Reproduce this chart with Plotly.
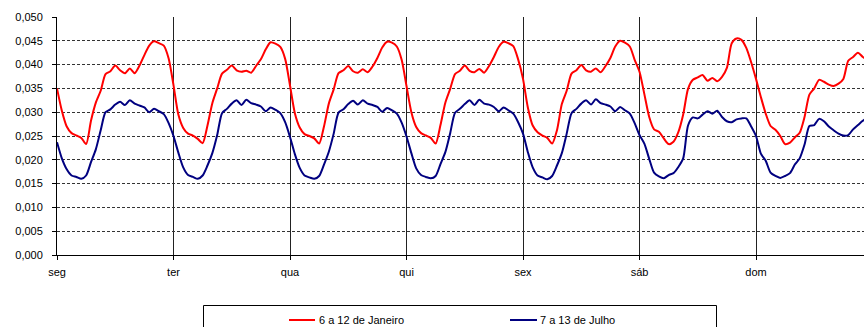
import plotly.graph_objects as go
import numpy as np

days = ["seg", "ter", "qua", "qui", "sex", "sáb", "dom"]
name_jan = "6 a 12 de Janeiro"
name_jul = "7 a 13 de Julho"

# hourly values (h0..h23) per day
jan_seg = [0.0350,0.0303,0.0270,0.0256,0.0251,0.0246,0.0233,0.0282,0.0320,0.0345,0.0380,0.0386,0.0398,0.0388,0.0382,0.0392,0.0382,0.0398,0.0420,0.0440,0.0449,0.0445,0.0440,0.0413]
jan_ter = [0.0357,0.0295,0.0267,0.0255,0.0251,0.0244,0.0235,0.0272,0.0319,0.0350,0.0381,0.0389,0.0398,0.0388,0.0385,0.0387,0.0383,0.0397,0.0411,0.0432,0.0447,0.0444,0.0437,0.0412]
jan_qua = [0.0356,0.0298,0.0268,0.0254,0.0250,0.0245,0.0234,0.0270,0.0318,0.0348,0.0382,0.0388,0.0397,0.0386,0.0383,0.0390,0.0384,0.0396,0.0414,0.0436,0.0448,0.0446,0.0438,0.0410]
jan_qui = [0.0355,0.0300,0.0269,0.0256,0.0251,0.0246,0.0234,0.0273,0.0320,0.0349,0.0380,0.0387,0.0398,0.0387,0.0384,0.0391,0.0383,0.0397,0.0416,0.0437,0.0448,0.0445,0.0439,0.0411]
jan_sex = [0.0370,0.0310,0.0272,0.0258,0.0251,0.0246,0.0234,0.0262,0.0317,0.0345,0.0381,0.0388,0.0399,0.0388,0.0385,0.0392,0.0384,0.0397,0.0414,0.0438,0.0450,0.0446,0.0438,0.0410]
jan_sab = [0.0385,0.0338,0.0290,0.0264,0.0259,0.0245,0.0233,0.0238,0.0258,0.0295,0.0349,0.0368,0.0373,0.0378,0.0366,0.0372,0.0365,0.0374,0.0393,0.0445,0.0455,0.0452,0.0435,0.0405]
jan_dom = [0.0370,0.0332,0.0297,0.0271,0.0263,0.0250,0.0233,0.0236,0.0247,0.0257,0.0290,0.0337,0.0350,0.0368,0.0364,0.0358,0.0355,0.0360,0.0370,0.0408,0.0416,0.0425,0.0416,0.0410]

jul_seg = [0.0237,0.0203,0.0180,0.0167,0.0164,0.0160,0.0167,0.0195,0.0222,0.0262,0.0300,0.0306,0.0316,0.0322,0.0315,0.0325,0.0318,0.0314,0.0310,0.0300,0.0307,0.0302,0.0296,0.0277]
jul_ter = [0.0250,0.0215,0.0184,0.0168,0.0164,0.0160,0.0167,0.0188,0.0214,0.0252,0.0298,0.0307,0.0318,0.0325,0.0315,0.0326,0.0319,0.0316,0.0312,0.0302,0.0310,0.0305,0.0298,0.0279]
jul_qua = [0.0248,0.0212,0.0183,0.0167,0.0163,0.0160,0.0166,0.0190,0.0217,0.0255,0.0299,0.0306,0.0317,0.0324,0.0316,0.0325,0.0318,0.0315,0.0311,0.0301,0.0309,0.0304,0.0297,0.0278]
jul_qui = [0.0249,0.0214,0.0182,0.0168,0.0164,0.0161,0.0166,0.0191,0.0216,0.0256,0.0299,0.0307,0.0317,0.0325,0.0315,0.0326,0.0318,0.0316,0.0311,0.0302,0.0310,0.0304,0.0297,0.0279]
jul_sex = [0.0255,0.0216,0.0184,0.0167,0.0163,0.0159,0.0166,0.0188,0.0214,0.0255,0.0298,0.0307,0.0318,0.0325,0.0316,0.0327,0.0319,0.0316,0.0312,0.0302,0.0311,0.0304,0.0297,0.0277]
jul_sab = [0.0252,0.0234,0.0202,0.0173,0.0165,0.0161,0.0168,0.0172,0.0185,0.0203,0.0272,0.0289,0.0287,0.0295,0.0302,0.0297,0.0303,0.0290,0.0281,0.0279,0.0285,0.0287,0.0287,0.0270]
jul_dom = [0.0250,0.0213,0.0198,0.0173,0.0166,0.0162,0.0166,0.0172,0.0190,0.0203,0.0232,0.0271,0.0273,0.0286,0.0281,0.0270,0.0262,0.0255,0.0251,0.0252,0.0264,0.0273,0.0282,0.0288]

jan = jan_seg + jan_ter + jan_qua + jan_qui + jan_sex + jan_sab + jan_dom
jul = jul_seg + jul_ter + jul_qua + jul_qui + jul_sex + jul_sab + jul_dom
hours = np.arange(len(jan))
hours_per_day = 24

W, H = 864, 327
ML, MR, MT, MB = 57, 0, 17, 72
PW, PH = W - ML - MR, H - MT - MB

def px_x(px):
    return (px - ML) / PW

def px_y(py):
    return (H - MB - py) / PH

FONT = "Liberation Sans, Arial, sans-serif"
RED = "#FF0000"
BLUE = "#000080"

fig = go.Figure()
fig.add_trace(go.Scatter(x=hours, y=jan, mode="lines", name=name_jan,
                         line=dict(color=RED, width=2, shape="spline", smoothing=0.7),
                         showlegend=False))
fig.add_trace(go.Scatter(x=hours, y=jul, mode="lines", name=name_jul,
                         line=dict(color=BLUE, width=2, shape="spline", smoothing=0.7),
                         showlegend=False))

# x range: chart is cut at the right edge of the picture
x_end = PW / 116.5 * hours_per_day

fig.update_xaxes(range=[0, x_end], tickvals=[i * hours_per_day for i in range(len(days))],
                 ticktext=days, showgrid=True, gridcolor="#222222", gridwidth=1,
                 showline=True, linecolor="black", linewidth=1,
                 ticks="outside", ticklen=4, tickcolor="black", zeroline=False,
                 tickfont=dict(family=FONT, size=11, color="black"), ticklabelstandoff=3)
fig.update_yaxes(range=[0, 0.05], dtick=0.005, tick0=0, tickformat=".3f",
                 showgrid=True, gridcolor="#333333", gridwidth=1, griddash="3px,2px",
                 showline=True, linecolor="black", linewidth=1,
                 ticks="outside", ticklen=4, tickcolor="black", zeroline=False,
                 tickfont=dict(family=FONT, size=11, color="black"), ticklabelstandoff=7)

# legend box (Excel-style, cut at bottom)
shapes = [
    dict(type="rect", xref="paper", yref="paper", x0=px_x(203.5), x1=px_x(716.5),
         y0=px_y(345), y1=px_y(305.5), line=dict(color="black", width=1), fillcolor="white", layer="above"),
    dict(type="line", xref="paper", yref="paper", x0=px_x(289), x1=px_x(315),
         y0=px_y(320), y1=px_y(320), line=dict(color=RED, width=2)),
    dict(type="line", xref="paper", yref="paper", x0=px_x(510), x1=px_x(537),
         y0=px_y(320), y1=px_y(320), line=dict(color=BLUE, width=2)),
]
annotations = [
    dict(text=name_jan, xref="paper", yref="paper", x=px_x(317), y=px_y(320),
         xanchor="left", yanchor="middle", showarrow=False,
         font=dict(family=FONT, size=11, color="black")),
    dict(text=name_jul, xref="paper", yref="paper", x=px_x(538), y=px_y(320),
         xanchor="left", yanchor="middle", showarrow=False,
         font=dict(family=FONT, size=11, color="black")),
]

fig.update_layout(width=W, height=H, margin=dict(l=ML, r=MR, t=MT, b=MB, autoexpand=False),
                  paper_bgcolor="white", plot_bgcolor="white", separators=",.",
                  font=dict(family=FONT, size=11, color="black"),
                  shapes=shapes, annotations=annotations, showlegend=False)

fig.write_html("out.html", config={"displayModeBar": False},
               post_script="document.body.style.margin='0';document.body.style.overflow='hidden';")
